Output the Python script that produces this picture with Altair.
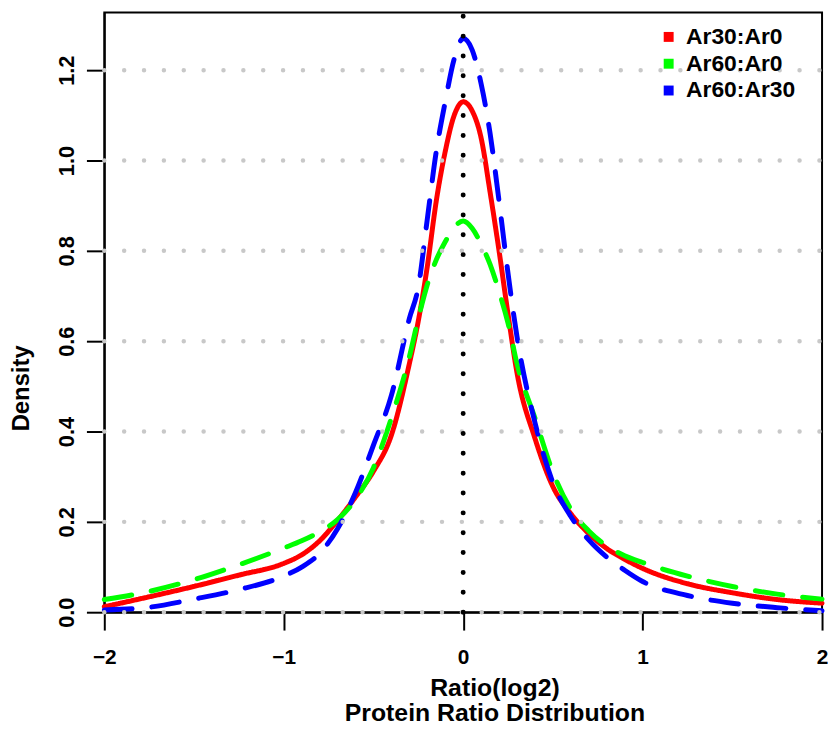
import altair as alt
import pandas as pd

# ---- data ----
x_vals = [-2, -1.75, -1.5, -1.25, -1, -0.9, -0.8, -0.7, -0.6, -0.5, -0.4, -0.3, -0.25, -0.2,
          -0.15, -0.1, -0.05, 0, 0.05, 0.1, 0.15, 0.2, 0.25, 0.3, 0.4, 0.5, 0.6, 0.7, 0.8,
          0.9, 1, 1.25, 1.5, 1.75, 2]
ar30_ar0 = [0.012, 0.034, 0.057, 0.082, 0.108, 0.127, 0.158, 0.203, 0.255, 0.312, 0.392, 0.550,
            0.645, 0.765, 0.910, 1.020, 1.100, 1.130, 1.110, 1.050, 0.930, 0.800, 0.660, 0.530,
            0.385, 0.278, 0.218, 0.174, 0.141, 0.117, 0.097, 0.063, 0.043, 0.028, 0.020]
ar60_ar0 = [0.028, 0.046, 0.072, 0.105, 0.142, 0.158, 0.178, 0.205, 0.250, 0.320, 0.430, 0.565,
            0.650, 0.725, 0.780, 0.820, 0.852, 0.866, 0.850, 0.815, 0.770, 0.710, 0.640, 0.550,
            0.430, 0.310, 0.228, 0.180, 0.147, 0.125, 0.110, 0.080, 0.057, 0.040, 0.029]
ar60_ar30 = [0.005, 0.011, 0.029, 0.050, 0.080, 0.100, 0.130, 0.185, 0.265, 0.370, 0.480, 0.650,
             0.720, 0.870, 1.020, 1.130, 1.225, 1.270, 1.245, 1.170, 1.060, 0.910, 0.750, 0.610,
             0.420, 0.287, 0.212, 0.160, 0.122, 0.093, 0.068, 0.037, 0.020, 0.010, 0.003]

series_names = ["Ar30:Ar0", "Ar60:Ar0", "Ar60:Ar30"]
series_colors = ["#FF0000", "#00FF00", "#0000FF"]
series_dash = [[1, 0], [28, 20], [28, 20]]

x_ticks = [-2, -1, 0, 1, 2]
y_ticks = [0.0, 0.2, 0.4, 0.6, 0.8, 1.0, 1.2]
grid_y = [0.0, 0.2, 0.4, 0.6, 0.8, 1.0, 1.2]
vline_x = [0]

x_domain = [-2, 2]
y_domain = [0, 1.3275]

rows = []
for name, vals in zip(series_names, [ar30_ar0, ar60_ar0, ar60_ar30]):
    for xv, yv in zip(x_vals, vals):
        rows.append({"x": xv, "y": yv, "series": name})
df = pd.DataFrame(rows)

FONT = "Liberation Sans"

xscale = alt.Scale(domain=x_domain, nice=False, zero=False)
yscale = alt.Scale(domain=y_domain, nice=False, zero=False)
cscale = alt.Scale(domain=series_names, range=series_colors)

lines = alt.Chart(df).mark_line(strokeWidth=5, strokeCap="round", interpolate="monotone").encode(
    x=alt.X("x:Q", scale=xscale,
            axis=alt.Axis(values=x_ticks, format="d",
                          labelFontSize=21, labelPadding=17,
                          title=["Ratio(log2)", "Protein Ratio Distribution"],
                          titleX=393, titleY=84, titleBaseline="alphabetic",
                          titleLineHeight=25, titleAlign="center", titleFontSize=25)),
    y=alt.Y("y:Q", scale=yscale,
            axis=alt.Axis(values=y_ticks, format=".1f", title="Density",
                          labelFontSize=22, labelPadding=8,
                          labelAngle=-90, labelAlign="center", labelBaseline="bottom",
                          titleX=-83, titleY=378, titleAlign="center", titleBaseline="middle",
                          titleAngle=-90, titleFontSize=24)),
    color=alt.Color("series:N", scale=cscale, sort=series_names, legend=None),
    strokeDash=alt.StrokeDash("series:N", scale=alt.Scale(domain=series_names, range=series_dash),
                              legend=None),
    order=alt.Order("x:Q"),
    detail="series:N",
)

# legend only: an empty point layer with filled squares
legend_layer = alt.Chart(df).transform_filter("datum.x > 100").mark_point(
    shape="square", filled=True, size=100, opacity=1
).encode(
    x=alt.X("x:Q", scale=xscale),
    y=alt.Y("y:Q", scale=yscale),
    color=alt.Color("series:N", scale=cscale, sort=series_names,
                    legend=alt.Legend(title=None, orient="none", legendX=557, legendY=13,
                                      symbolType="square", symbolSize=100,
                                      symbolStrokeWidth=0, symbolOpacity=1,
                                      labelFont=FONT, labelFontSize=23, labelFontWeight="bold",
                                      labelColor="black", labelOffset=6, rowPadding=3,
                                      padding=0)),
)

grid_df = pd.DataFrame({"gy": grid_y})
grid = alt.Chart(grid_df).mark_rule(color="#C8C8C8", strokeWidth=4.5, strokeDash=[0.01, 20],
                                    strokeCap="round").encode(
    y=alt.Y("gy:Q", scale=yscale),
    x=alt.datum(x_domain[0]),
    x2=alt.datum(x_domain[1]),
)

vdf = pd.DataFrame({"vx": vline_x})
vline = alt.Chart(vdf).mark_rule(color="black", strokeWidth=5, strokeDash=[0.01, 20],
                                 strokeCap="round").encode(
    x=alt.X("vx:Q", scale=xscale),
    y=alt.datum(y_domain[0]),
    y2=alt.datum(y_domain[1]),
)

chart = alt.layer(lines, grid, vline, legend_layer).resolve_legend(
    color="independent"
).properties(
    width=723, height=604,
    background="white",
    autosize=alt.AutoSizeParams(type="none"),
    padding={"left": 97, "top": 2, "right": 6, "bottom": 111},
).configure_view(
    stroke="black", strokeWidth=2, fill="white"
).configure_axis(
    labelFont=FONT, labelFontWeight="bold", labelColor="black",
    titleFont=FONT, titleFontWeight="bold", titleColor="black",
    tickSize=18, tickWidth=2, tickColor="black", domainColor="black", domainWidth=2,
    grid=False, labelFlush=False,
)

chart.save("out.html", embed_options={"renderer": "svg", "actions": False})
